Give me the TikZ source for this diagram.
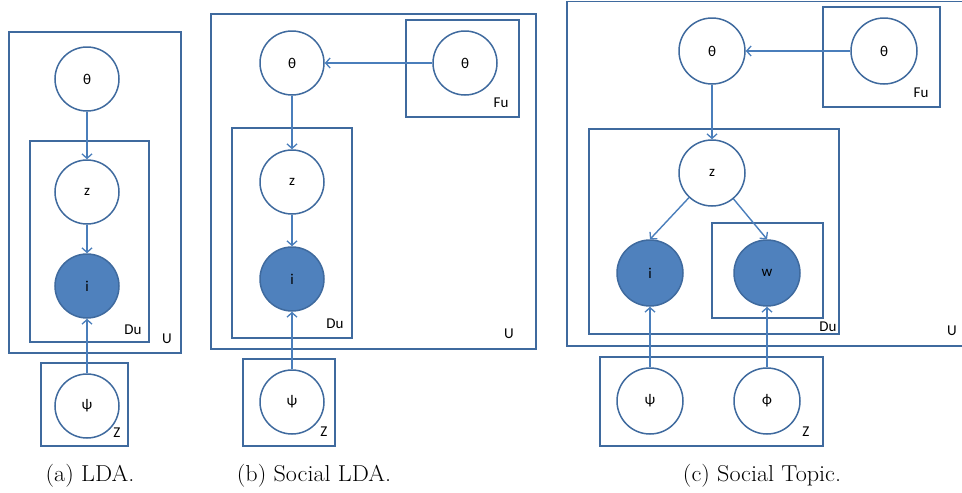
\documentclass[tikz,border=0pt]{standalone}
\usepackage{fontspec}
\newfontfamily\labelfont{Carlito}
\usetikzlibrary{arrows.meta}
\definecolor{edgeblue}{HTML}{4A7EBB}
\definecolor{lineblue}{HTML}{3F6A9E}
\definecolor{obsfill}{HTML}{4F81BD}
\tikzset{
  var/.style={circle, draw=lineblue, line width=1.5pt, fill=white, minimum size=64pt, inner sep=0pt, font=\labelfont\fontsize{15}{15}\selectfont},
  varbig/.style={var, minimum size=66pt},
  obs/.style={fill=obsfill},
  plate/.style={draw=lineblue, line width=1.6pt},
  platelabel/.style={font=\labelfont\fontsize{15}{15}\selectfont, inner sep=0pt},
  edge/.style={draw=edgeblue, line width=1.4pt, -{Straight Barb[length=4.5pt,width=10pt,line width=1.3pt]}},
  caption/.style={font=\fontsize{23}{27}\selectfont, anchor=base, inner sep=0pt}
}
\begin{document}
\begin{tikzpicture}[x=1pt,y=-1pt]
\useasboundingbox (0,0) rectangle (962,493);

% ---------- (a) LDA ----------
\draw[plate] (9,32) rectangle (181,353);
\draw[plate] (30,141) rectangle (149,342);
\draw[plate] (41,363) rectangle (128,446);
\node[var] (a-theta) at (87,79) {θ};
\node[var] (a-z) at (87,192) {z};
\node[var,obs] (a-i) at (87,286) {i};
\node[var] (a-psi) at (87,406) {ψ};
\node[platelabel] (a-du) at (133,330) {Du};
\node[platelabel] (a-u) at (167,339) {U};
\node[platelabel] (a-zl) at (117,433) {Z};
\draw[edge] (a-theta) -- (a-z);
\draw[edge] (a-z) -- (a-i);
\draw[edge] (a-psi) -- (a-i);

% ---------- (b) Social LDA ----------
\draw[plate] (211,14) rectangle (536,349);
\draw[plate] (406,20) rectangle (519,117);
\draw[plate] (232,128) rectangle (352,338);
\draw[plate] (243,359) rectangle (335,446);
\node[var] (b-theta) at (292,63) {θ};
\node[var] (b-theta2) at (465,63) {θ};
\node[var] (b-z) at (292,182) {z};
\node[var,obs] (b-i) at (292,279) {i};
\node[var] (b-psi) at (292,402) {ψ};
\node[platelabel] (b-fu) at (501,103) {Fu};
\node[platelabel] (b-du) at (335,324) {Du};
\node[platelabel] (b-u) at (509,334) {U};
\node[platelabel] (b-zl) at (324,432) {Z};
\draw[edge] (b-theta2) -- (b-theta);
\draw[edge] (b-theta) -- (b-z);
\draw[edge] (b-z) -- (b-i);
\draw[edge] (b-psi) -- (b-i);

% ---------- (c) Social Topic ----------
\draw[plate] (962,1.5) -- (567,1.5) -- (567,346) -- (962,346);
\draw[plate] (823,7) rectangle (940,107);
\draw[plate] (589,129) rectangle (839,334);
\draw[plate] (712,223) rectangle (823,318);
\draw[plate] (600,357) rectangle (823,446);
\node[varbig] (c-theta) at (712,51) {θ};
\node[varbig] (c-theta2) at (884,51) {θ};
\node[varbig] (c-z) at (712,173) {z};
\node[varbig,obs] (c-i) at (650,273) {i};
\node[varbig,obs] (c-w) at (767,273) {w};
\node[varbig] (c-psi) at (650,401) {ψ};
\node[varbig] (c-phi) at (767,401) {ϕ};
\node[platelabel] (c-fu) at (921,93) {Fu};
\node[platelabel] (c-du) at (828,327) {Du};
\node[platelabel] (c-u) at (952,331) {U};
\node[platelabel] (c-zl) at (806,432) {Z};
\draw[edge] (c-theta2) -- (c-theta);
\draw[edge] (c-theta) -- (c-z);
\draw[edge] (c-z) -- (c-i.north);
\draw[edge] (c-z) -- (c-w.north);
\draw[edge] (c-psi) -- (c-i);
\draw[edge] (c-phi) -- (c-w);

% ---------- captions ----------
\node[caption] (cap-a) at (90,481) {\scalebox{1.05}[1]{(a) LDA.}};
\node[caption] (cap-b) at (314,481) {\scalebox{1.05}[1]{(b) Social LDA.}};
\node[caption] (cap-c) at (762,481) {\scalebox{1.05}[1]{(c) Social Topic.}};
\end{tikzpicture}
\end{document}
